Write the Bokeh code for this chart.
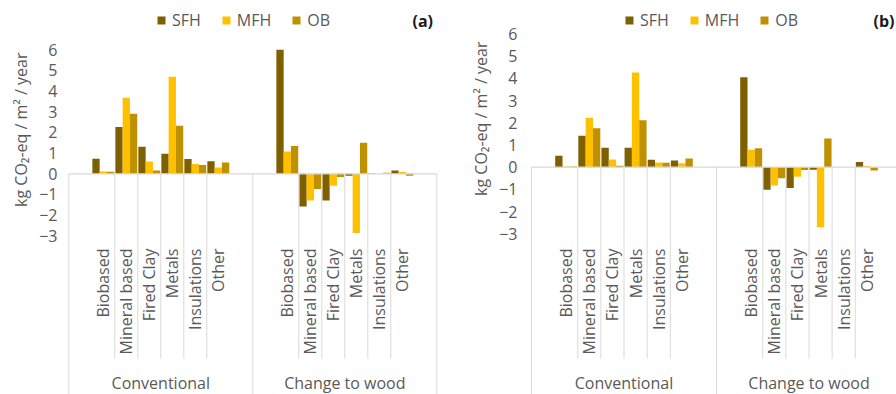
import numpy as np
from bokeh.plotting import figure
from bokeh.layouts import row
from bokeh.models import (ColumnDataSource, FixedTicker, Legend, LegendItem,
                          Label, Range1d, Title)
from bokeh.embed import file_html
from bokeh.resources import INLINE
from bokeh.core.properties import value

# ---------------------------------------------------------------- data
groups = ["Conventional", "Change to wood"]
materials = ["Biobased", "Mineral based", "Fired Clay", "Metals", "Insulations", "Other"]
series = ["SFH", "MFH", "OB"]
colors = ["#7f6000", "#ffc000", "#bf9000"]
y_ticks = [-3, -2, -1, 0, 1, 2, 3, 4, 5, 6]

# panel (a): six conventional materials, then six after change to wood
a_sfh = [0.73, 2.27, 1.31, 0.97, 0.71, 0.61, 6.00, -1.58, -1.29, -0.10, 0.03, 0.16]
a_mfh = [0.11, 3.68, 0.60, 4.69, 0.47, 0.31, 1.08, -1.29, -0.58, -2.87, 0.00, 0.09]
a_ob = [0.10, 2.90, 0.16, 2.32, 0.42, 0.55, 1.35, -0.74, -0.16, 1.50, 0.05, -0.10]

# panel (b)
b_sfh = [0.51, 1.41, 0.87, 0.87, 0.33, 0.30, 4.05, -1.02, -0.94, -0.12, 0.00, 0.23]
b_mfh = [0.03, 2.22, 0.35, 4.26, 0.21, 0.18, 0.78, -0.82, -0.43, -2.70, 0.00, 0.05]
b_ob = [0.03, 1.75, 0.06, 2.11, 0.20, 0.39, 0.85, -0.50, -0.13, 1.29, 0.00, -0.15]

FONT = "Open Sans"
TEXT = "#595959"
LINE = "#d9d9d9"
H = 394
SLOTS = len(materials) + 2          # one empty slot on each side of a group
BAR_W = 0.317
Y_TITLE = "kg CO\u2082-eq / m\u00b2 / year"


def panel(tag, values, geo):
    """geo holds pixel geometry of one panel (figure-relative)."""
    W, bl, br = geo["width"], geo["border_left"], geo["border_right"]
    ax, sp, zp, up = geo["axis_px"], geo["slot_px"], geo["zero_px"], geo["unit_px"]

    def dx(px):
        return (px - ax) / sp

    def dy(py):
        return (zp - py) / up

    p = figure(width=W, height=H, output_backend="svg", toolbar_location=None,
               x_axis_location=None, min_border=0,
               min_border_left=bl, min_border_right=br,
               x_range=Range1d(dx(bl), dx(W - br)),
               y_range=Range1d(dy(H), dy(0)))
    p.grid.visible = False
    p.outline_line_color = None
    p.background_fill_color = "white"
    p.border_fill_color = "white"

    ya = p.yaxis[0]
    ya.ticker = FixedTicker(ticks=y_ticks)
    ya.axis_line_color = None
    ya.major_tick_line_color = None
    ya.minor_tick_line_color = None
    ya.major_tick_out = 0
    ya.major_tick_in = 0
    ya.major_label_standoff = 10
    ya.major_label_text_font = FONT
    ya.major_label_text_font_size = "16px"
    ya.major_label_text_color = TEXT

    # vertical axis title, placed along the left border
    p.add_layout(Title(text=Y_TITLE, align="right", offset=geo["title_top"],
                       standoff=10, text_font=FONT,
                       text_font_size="16px", text_font_style="normal",
                       text_color=TEXT), "left")

    n_groups = len(groups)
    total = SLOTS * n_groups

    # bars
    items = []
    for si, (name, col) in enumerate(zip(series, colors)):
        xs, tops = [], []
        for gi in range(n_groups):
            for mi in range(len(materials)):
                xs.append(gi * SLOTS + 1 + mi + 0.5 + (si - 1) * BAR_W)
                tops.append(values[si][gi * len(materials) + mi])
        src = ColumnDataSource(dict(x=xs, top=tops))
        r = p.vbar(x="x", top="top", bottom=0, width=BAR_W, source=src,
                   fill_color=col, line_color=None)
        items.append(LegendItem(label=name, renderers=[r]))

    # zero line along the category axis
    p.segment(x0=[0], y0=[0], x1=[total], y1=[0], line_color=LINE, line_width=1.3)

    # separators between materials and between groups
    sub_x = [gi * SLOTS + 1 + mi for gi in range(n_groups) for mi in range(1, len(materials))]
    p.segment(x0=sub_x, y0=[0] * len(sub_x), x1=sub_x, y1=[dy(358)] * len(sub_x),
              line_color=LINE, line_width=1)
    grp_x = [gi * SLOTS for gi in range(n_groups + 1)]
    p.segment(x0=grp_x, y0=[0] * len(grp_x), x1=grp_x, y1=[dy(H)] * len(grp_x),
              line_color=LINE, line_width=1)

    # category labels
    lx = [gi * SLOTS + 1 + mi + 0.5 for gi in range(n_groups) for mi in range(len(materials))]
    lt = [m for _ in groups for m in materials]
    p.text(x=lx, y=[dy(248)] * len(lx), text=lt, angle=np.pi / 2,
           text_align="right", text_baseline="middle",
           text_font=value(FONT), text_font_size="16px", text_color=TEXT)
    gx = [gi * SLOTS + SLOTS / 2 for gi in range(n_groups)]
    p.text(x=gx, y=[dy(382)] * len(gx), text=groups,
           text_align="center", text_baseline="middle",
           text_font=value(FONT), text_font_size="16px", text_color=TEXT)

    # panel tag
    p.add_layout(Label(x=dx(geo["tag_x"]), y=dy(20.7), text=tag,
                       text_align="left", text_baseline="middle",
                       text_font=FONT, text_font_size="16px",
                       text_font_style="bold", text_color="#1a1a1a"))

    legend = Legend(items=items, orientation="horizontal",
                    location=(geo["legend_x"] - bl, H - 31),
                    glyph_width=10, glyph_height=10, label_standoff=6,
                    spacing=20, padding=0, margin=0,
                    border_line_color=None, background_fill_alpha=0,
                    label_text_font=FONT, label_text_font_size="16px",
                    label_text_color=TEXT)
    p.add_layout(legend)
    return p


geo_a = dict(width=460, border_left=67, border_right=15, axis_px=68.3, slot_px=23.0,
             zero_px=173.3, unit_px=20.67, title_top=52, tag_x=412, legend_x=156)
geo_b = dict(width=436, border_left=67, border_right=0, axis_px=71.0, slot_px=23.125,
             zero_px=166.7, unit_px=22.22, title_top=41, tag_x=413, legend_x=164)

pa = panel("(a)", [a_sfh, a_mfh, a_ob], geo_a)
pb = panel("(b)", [b_sfh, b_mfh, b_ob], geo_b)

layout = row(pa, pb, spacing=0)
open("out.html", "w").write(file_html(layout, INLINE))
